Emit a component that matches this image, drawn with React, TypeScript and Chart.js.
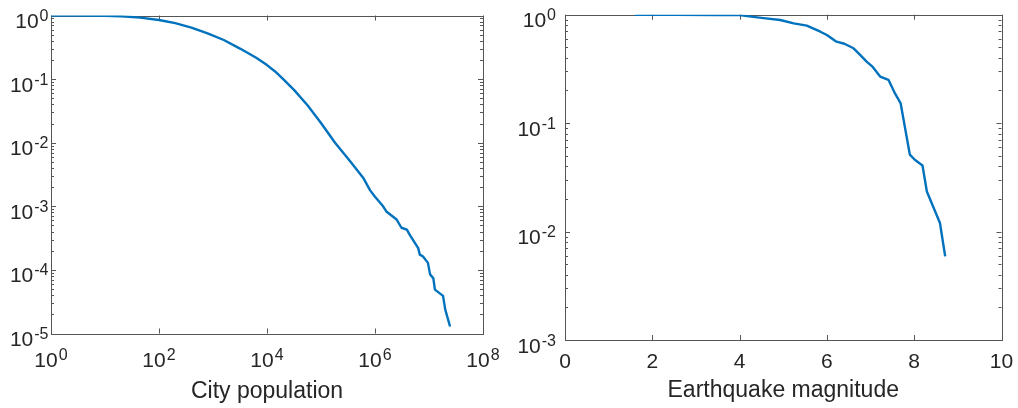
import { useEffect, useRef } from 'react';
import { Chart, registerables } from 'chart.js';

Chart.register(...registerables);

// ---------- data ----------
const cityPopulation = [
  1, 3.16, 10, 20, 44.7, 100, 200, 398, 794, 1585, 3162, 6310, 10000, 14125,
  19953, 31623, 56234, 100000, 181970, 346700, 602600, 812800, 1000000,
  1412500, 1622000, 2512000, 3090000, 3890000, 4467000, 6310000, 6761000,
  7762000, 9550000, 10470000, 12020000, 12880000, 18200000, 19950000, 24550000,
];
const cityFraction = [
  1.0, 0.998, 0.989, 0.973, 0.925, 0.851, 0.759, 0.646, 0.525, 0.412, 0.302,
  0.216, 0.166, 0.132, 0.1, 0.0676, 0.0389, 0.0204, 0.01, 0.00513, 0.00282,
  0.00178, 0.00141, 0.001, 0.00083, 0.00062, 0.00046, 0.00043, 0.00035,
  0.00022, 0.000174, 0.000162, 0.000129, 0.000085, 0.000074, 0.000049,
  0.000039, 0.000024, 0.0000129,
];

const quakeMagnitude = [
  1.6, 2.5, 3.5, 4.0, 4.31, 4.6, 4.93, 5.24, 5.54, 5.85, 6.0, 6.22, 6.4, 6.61,
  6.75, 6.91, 7.05, 7.22, 7.41, 7.56, 7.69, 7.9, 8.02, 8.19, 8.29, 8.59, 8.71,
];
const quakeFraction = [
  1.0, 0.999, 0.995, 0.99, 0.955, 0.925, 0.893, 0.832, 0.794, 0.697, 0.65,
  0.564, 0.54, 0.49, 0.43, 0.369, 0.33, 0.269, 0.251, 0.188, 0.152, 0.0513,
  0.0457, 0.0407, 0.0234, 0.012, 0.0059,
];

const cityXTickValues = [1, 1e2, 1e4, 1e6, 1e8];
const cityXTickExponents = ['0', '2', '4', '6', '8'];
const cityYTickValues = [1, 1e-1, 1e-2, 1e-3, 1e-4, 1e-5];
const cityYTickExponents = ['0', '-1', '-2', '-3', '-4', '-5'];

const quakeXTickValues = [0, 2, 4, 6, 8, 10];
const quakeXTickLabels = ['0', '2', '4', '6', '8', '10'];
const quakeYTickValues = [1, 1e-1, 1e-2, 1e-3];
const quakeYTickExponents = ['0', '-1', '-2', '-3'];

const cityXLabel = 'City population';
const quakeXLabel = 'Earthquake magnitude';

// ---------- style ----------
const FONT = '"Liberation Sans", Arial, Helvetica, sans-serif';
const TEXT = '#262626';
const AXIS = '#555555';
const LINE = '#0072BD';

type Tick = { value: number; base: string; exp?: string };

function logMinors(min: number, max: number): number[] {
  const out: number[] = [];
  let d = min;
  while (d < max) {
    for (let k = 2; k <= 9; k++) out.push(k * d);
    d *= 10;
  }
  return out;
}

const matlabAxes = {
  id: 'matlabAxes',
  beforeDatasetsDraw(chart: any, _a: any, o: any) {
    const { ctx, chartArea } = chart;
    const { left, right, top, bottom } = chartArea;
    const xs = chart.scales.x;
    const ys = chart.scales.y;
    const p = (v: number) => Math.round(v) + 0.5;
    ctx.save();
    ctx.strokeStyle = AXIS;
    ctx.lineWidth = 1;
    ctx.strokeRect(p(left), p(top), Math.round(right) - Math.round(left), Math.round(bottom) - Math.round(top));
    ctx.beginPath();
    const xt = (v: number, len: number) => {
      const x = p(xs.getPixelForValue(v));
      ctx.moveTo(x, bottom); ctx.lineTo(x, bottom - len);
      ctx.moveTo(x, top); ctx.lineTo(x, top + len);
    };
    const yt = (v: number, len: number) => {
      const y = p(ys.getPixelForValue(v));
      ctx.moveTo(left, y); ctx.lineTo(left + len, y);
      ctx.moveTo(right, y); ctx.lineTo(right - len, y);
    };
    o.xTicks.forEach((t: Tick) => xt(t.value, 5));
    o.yTicks.forEach((t: Tick) => yt(t.value, 5));
    (o.yMinor || []).forEach((v: number) => yt(v, 3));
    ctx.stroke();
    ctx.restore();
  },
  afterDraw(chart: any, _a: any, o: any) {
    const { ctx, chartArea } = chart;
    const { left, right, bottom } = chartArea;
    const xs = chart.scales.x;
    const ys = chart.scales.y;
    ctx.save();
    ctx.fillStyle = TEXT;
    const baseFont = `21px ${FONT}`;
    const expFont = `16px ${FONT}`;
    // x tick labels
    o.xTicks.forEach((t: Tick) => {
      const x = xs.getPixelForValue(t.value);
      ctx.font = baseFont;
      const wb = ctx.measureText(t.base).width;
      let we = 0;
      if (t.exp) { ctx.font = expFont; we = ctx.measureText(t.exp).width + 1; }
      const x0 = x - (wb + we) / 2;
      ctx.textAlign = 'left';
      ctx.textBaseline = 'alphabetic';
      ctx.font = baseFont;
      const by = bottom + (t.exp ? o.xExpBaseline : o.xPlainBaseline);
      ctx.fillText(t.base, x0, by);
      if (t.exp) {
        ctx.font = expFont;
        ctx.fillText(t.exp, x0 + wb + 1, by - 7);
      }
    });
    // y tick labels
    o.yTicks.forEach((t: Tick) => {
      const y = ys.getPixelForValue(t.value);
      const R = left - o.yGap;
      ctx.textAlign = 'right';
      ctx.textBaseline = 'alphabetic';
      ctx.font = expFont;
      const we = t.exp ? ctx.measureText(t.exp).width + 1 : 0;
      if (t.exp) ctx.fillText(t.exp, R, y + 5.5);
      ctx.font = baseFont;
      ctx.fillText(t.base, R - we, y + 12.5);
    });
    // axis title
    ctx.font = `23px ${FONT}`;
    ctx.textAlign = 'center';
    ctx.textBaseline = 'alphabetic';
    ctx.fillText(o.title, (left + right) / 2, o.titleBaseline);
    ctx.restore();
  },
};

type PanelProps = {
  xs: number[];
  ys: number[];
  xType: 'linear' | 'logarithmic';
  xMin: number;
  xMax: number;
  yMin: number;
  yMax: number;
  padding: { left: number; right: number; top: number; bottom: number };
  xTicks: Tick[];
  yTicks: Tick[];
  yGap: number;
  title: string;
  titleBaseline: number;
  leftPos: number;
};

function Panel(props: PanelProps) {
  const ref = useRef<HTMLCanvasElement | null>(null);
  useEffect(() => {
    if (!ref.current) return;
    const chart = new Chart(ref.current, {
      type: 'line',
      data: {
        datasets: [
          {
            data: props.xs.map((x, i) => ({ x, y: props.ys[i] })),
            borderColor: LINE,
            borderWidth: 2.4,
            pointRadius: 0,
            tension: 0,
            fill: false,
            borderJoinStyle: 'round',
          },
        ],
      },
      options: {
        responsive: false,
        animation: false,
        devicePixelRatio: 1,
        layout: { padding: props.padding },
        plugins: {
          legend: { display: false },
          tooltip: { enabled: false },
          matlabAxes: {
            xTicks: props.xTicks,
            yTicks: props.yTicks,
            yMinor: logMinors(props.yMin, props.yMax),
            yGap: props.yGap,
            xExpBaseline: 33.5,
            xPlainBaseline: 28,
            title: props.title,
            titleBaseline: props.titleBaseline,
          },
        } as any,
        scales: {
          x: { type: props.xType, display: false, min: props.xMin, max: props.xMax },
          y: { type: 'logarithmic', display: false, min: props.yMin, max: props.yMax },
        },
      },
      plugins: [matlabAxes],
    });
    return () => chart.destroy();
  }, []);
  return (
    <canvas
      ref={ref}
      width={509}
      height={408}
      style={{ position: 'absolute', left: props.leftPos, top: 0, width: 509, height: 408 }}
    />
  );
}

export default function App() {
  const cityX: Tick[] = cityXTickValues.map((v, i) => ({ value: v, base: '10', exp: cityXTickExponents[i] }));
  const cityY: Tick[] = cityYTickValues.map((v, i) => ({ value: v, base: '10', exp: cityYTickExponents[i] }));
  const quakeX: Tick[] = quakeXTickValues.map((v, i) => ({ value: v, base: quakeXTickLabels[i] }));
  const quakeY: Tick[] = quakeYTickValues.map((v, i) => ({ value: v, base: '10', exp: quakeYTickExponents[i] }));
  return (
    <div style={{ position: 'fixed', left: 0, top: 0, width: 1018, height: 408, background: '#ffffff' }}>
      <Panel
        xs={cityPopulation}
        ys={cityFraction}
        xType="logarithmic"
        xMin={1}
        xMax={1e8}
        yMin={1e-5}
        yMax={1}
        padding={{ left: 51, right: 26, top: 15.5, bottom: 74.5 }}
        xTicks={cityX}
        yTicks={cityY}
        yGap={2.5}
        title={cityXLabel}
        titleBaseline={398}
        leftPos={0}
      />
      <Panel
        xs={quakeMagnitude}
        ys={quakeFraction}
        xType="linear"
        xMin={0}
        xMax={10}
        yMin={1e-3}
        yMax={1}
        padding={{ left: 56, right: 16.5, top: 14.7, bottom: 68 }}
        xTicks={quakeX}
        yTicks={quakeY}
        yGap={9}
        title={quakeXLabel}
        titleBaseline={397}
        leftPos={509}
      />
    </div>
  );
}
